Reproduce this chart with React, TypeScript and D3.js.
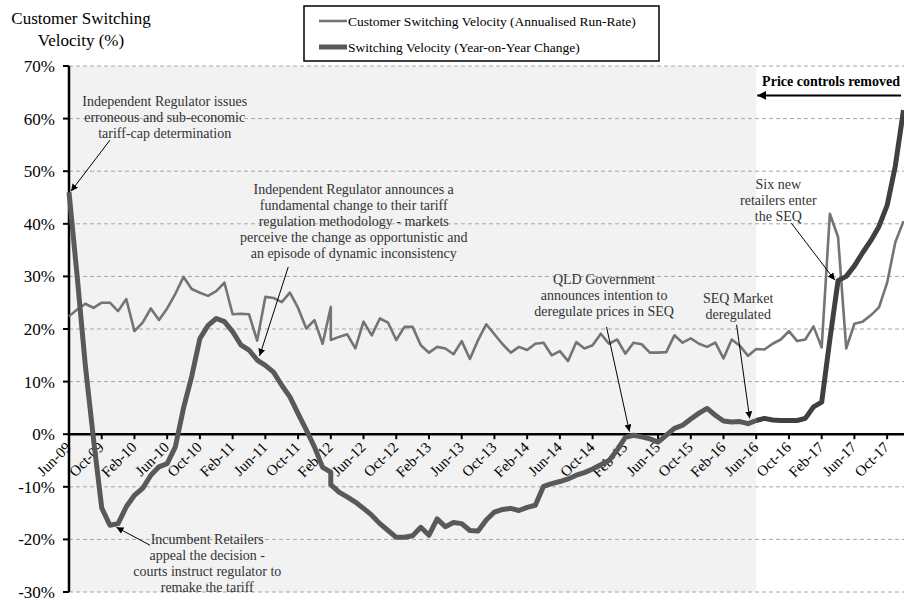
import React from "react";
import * as d3 from "d3";

// ---------- DATA ----------
const xTickLabels = [
  "Jun-09", "Oct-09", "Feb-10", "Jun-10", "Oct-10", "Feb-11", "Jun-11", "Oct-11",
  "Feb-12", "Jun-12", "Oct-12", "Feb-13", "Jun-13", "Oct-13", "Feb-14", "Jun-14",
  "Oct-14", "Feb-15", "Jun-15", "Oct-15", "Feb-16", "Jun-16", "Oct-16", "Feb-17",
  "Jun-17", "Oct-17",
];
const yTicks = [-30, -20, -10, 0, 10, 20, 30, 40, 50, 60, 70];

// month offsets from Jun-09 (Feb/Mar-12 reported twice in the source)
const monthIndex = [...d3.range(0, 33), 32, ...d3.range(33, 103)];

const runRate = [
  22.4, 23.7, 24.8, 24.0, 25.0, 25.0, 23.4, 25.7, 19.6, 21.2,
  23.9, 21.7, 23.9, 26.7, 29.9, 27.6, 26.9, 26.3, 27.2, 28.8,
  22.8, 22.9, 22.8, 17.8, 26.1, 25.9, 25.1, 26.9, 24.0, 20.1,
  21.7, 17.2, 24.2, 17.9, 18.5, 19.0, 16.3, 21.4, 18.8, 22.0,
  21.2, 17.9, 20.4, 20.4, 16.9, 15.5, 16.6, 16.3, 15.2, 17.7,
  14.3, 17.9, 20.9, 19.0, 17.1, 15.5, 16.6, 16.0, 17.2, 17.4,
  15.0, 15.8, 13.9, 17.5, 16.3, 16.9, 19.1, 17.2, 18.0, 15.3,
  17.4, 17.1, 15.5, 15.5, 15.6, 18.8, 17.4, 18.2, 17.2, 16.6,
  17.4, 14.4, 18.0, 16.8, 14.9, 16.2, 16.1, 17.2, 18.0, 19.6,
  17.7, 18.0, 20.5, 16.5, 41.9, 37.5, 16.3, 21.0, 21.4, 22.6,
  24.1, 28.8, 36.5, 40.5,
];

const yoyChange = [
  46.0, 30.0, 13.0, -1.0, -14.0, -17.3, -17.0, -13.8, -11.6, -10.3,
  -7.8, -6.2, -5.6, -2.4, 5.0, 11.0, 18.2, 20.7, 22.0, 21.4,
  19.5, 17.0, 16.0, 14.1, 13.1, 11.8, 9.3, 7.1, 3.9, 0.8,
  -2.4, -6.3, -7.2, -9.6, -11.0, -11.9, -12.9, -14.1, -15.4, -17.0,
  -18.3, -19.6, -19.6, -19.3, -17.7, -19.2, -16.1, -17.6, -16.8, -17.0,
  -18.3, -18.4, -16.3, -14.8, -14.3, -14.1, -14.5, -13.9, -13.5, -9.9,
  -9.4, -9.0, -8.5, -7.8, -7.3, -6.6, -5.8, -5.0, -3.0, -0.6,
  -0.2, -0.5, -0.9, -1.5, -0.2, 1.1, 1.7, 2.9, 4.0, 4.9,
  3.6, 2.5, 2.3, 2.4, 2.0, 2.6, 3.0, 2.7, 2.6, 2.6,
  2.6, 3.0, 5.2, 6.1, 18.0, 29.2, 30.0, 32.0, 34.5, 36.8,
  39.5, 43.5, 51.0, 61.6,
];

const priceControlStart = 84; // Jun-16

const legendLabels = [
  "Customer Switching Velocity (Annualised Run-Rate)",
  "Switching Velocity (Year-on-Year Change)",
];

// annotations in data space (month index, %)
const annotations = [
  { lines: ["Independent Regulator issues", "erroneous and sub-economic", "tariff-cap determination"],
    tx: 11.7, ty: 62.4, from: [5.0, 55.9], to: [0.25, 46.2] },
  { lines: ["Independent Regulator announces a", "fundamental change to their tariff", "regulation methodology  - markets", "perceive the change as opportunistic  and", "an episode of dynamic inconsistency"],
    tx: 34.8, ty: 45.6, from: [26.8, 31.8], to: [23.3, 14.9] },
  { lines: ["Incumbent Retailers", "appeal the decision -", "courts instruct regulator to", "remake the tariff"],
    tx: 16.9, ty: -20.8, from: [9.9, -21.1], to: [5.8, -17.7] },
  { lines: ["QLD Government", "announces intention to", "deregulate prices in SEQ"],
    tx: 65.4, ty: 28.5, from: [65.7, 20.4], to: [68.5, 0.5] },
  { lines: ["SEQ Market", "deregulated"],
    tx: 81.8, ty: 25.0, from: [81.6, 20.8], to: [83.2, 3.0] },
  { lines: ["Six new", "retailers enter", "the SEQ"],
    tx: 86.7, ty: 46.7, from: [88.3, 40.1], to: [93.6, 29.3] },
];

// ---------- CHART ----------
const FONT = '"Liberation Serif", "Times New Roman", serif';
const W = 904;
const H = 601;

export default function App() {
  const X = d3.scaleLinear().domain([0, 102]).range([69, 903.5]);
  const Y = d3.scaleLinear().domain([-30, 70]).range([592, 66]);

  const pts = (vals: number[]) => vals.map((v, k) => [monthIndex[k], v] as [number, number]);
  const line = d3.line<[number, number]>().x((d) => X(d[0])).y((d) => Y(d[1]));

  const thinPts = pts(runRate);
  const thickPts = pts(yoyChange);
  const splitK = monthIndex.indexOf(priceControlStart);
  const thickA = thickPts.slice(0, splitK + 1);
  const thickB = thickPts.slice(splitK);

  const y0 = Y(0);

  return (
    <svg width={W} height={H} style={{ position: "absolute", left: 0, top: 0, background: "#fff" }}
      fontFamily={FONT}>
      <defs>
        <marker id="arr" viewBox="0 0 10 10" refX="10" refY="5" markerWidth="7" markerHeight="7"
          markerUnits="userSpaceOnUse" orient="auto">
          <path d="M0,0 L10,5 L0,10 z" fill="#000" />
        </marker>
        <marker id="arrBig" viewBox="0 0 10 10" refX="10" refY="5" markerWidth="9" markerHeight="9"
          markerUnits="userSpaceOnUse" orient="auto">
          <path d="M0,0 L10,5 L0,10 z" fill="#000" />
        </marker>
      </defs>

      {/* shaded regulated period */}
      <rect x={X(0)} y={Y(70)} width={X(priceControlStart) - X(0)} height={Y(-30) - Y(70)} fill="#f2f2f2" />

      {/* gridlines */}
      {yTicks.filter((t) => t !== 0).map((t) => (
        <line key={t} x1={X(0)} x2={W} y1={Y(t)} y2={Y(t)} stroke="#a6a6a6" strokeWidth={1}
          strokeDasharray="4 3" />
      ))}

      {/* y axis */}
      <line x1={X(0)} x2={X(0)} y1={Y(70)} y2={Y(-30)} stroke="#000" strokeWidth={2.5} />
      {yTicks.map((t) => (
        <g key={t}>
          <line x1={X(0) - 6} x2={X(0)} y1={Y(t)} y2={Y(t)} stroke="#000" strokeWidth={2} />
          <text x={55} y={Y(t)} dy="0.35em" textAnchor="end" fontSize={17} fill="#000">{`${t}%`}</text>
        </g>
      ))}

      {/* zero axis + x ticks */}
      <line x1={X(0)} x2={W} y1={y0} y2={y0} stroke="#000" strokeWidth={2.5} />
      {xTickLabels.map((lab, k) => (
        <g key={lab}>
          <line x1={X(k * 4)} x2={X(k * 4)} y1={y0} y2={y0 + 5} stroke="#000" strokeWidth={2} />
          <text transform={`translate(${X(k * 4) + 3},${y0 + 14}) rotate(-45)`} textAnchor="end"
            fontSize={15} fill="#000">{lab}</text>
        </g>
      ))}

      {/* series */}
      <path d={line(thinPts) || ""} fill="none" stroke="#747474" strokeWidth={2.6} strokeLinejoin="round" />
      <path d={line(thickA) || ""} fill="none" stroke="#595959" strokeWidth={5} strokeLinejoin="round" />
      <path d={line(thickB) || ""} fill="none" stroke="#404040" strokeWidth={5} strokeLinejoin="round" />

      {/* annotations */}
      {annotations.map((a, i) => (
        <g key={i}>
          <line x1={X(a.from[0])} y1={Y(a.from[1])} x2={X(a.to[0])} y2={Y(a.to[1])} stroke="#000"
            strokeWidth={1} markerEnd="url(#arr)" />
          <text textAnchor="middle" fontSize={14} fill="#333">
            {a.lines.map((l, j) => (
              <tspan key={j} x={X(a.tx)} y={Y(a.ty) + j * 16}>{l}</tspan>
            ))}
          </text>
        </g>
      ))}

      {/* price controls removed */}
      <text x={900} y={Y(66.2)} textAnchor="end" fontSize={14} fontWeight="bold" fill="#000">
        Price controls removed
      </text>
      <line x1={X(101.7)} x2={X(priceControlStart) + 1} y1={Y(64.4)} y2={Y(64.4)} stroke="#000" strokeWidth={2}
        markerEnd="url(#arrBig)" />

      {/* y axis title */}
      <text textAnchor="middle" fontSize={17} fill="#000">
        <tspan x={81} y={24}>Customer Switching</tspan>
        <tspan x={81} y={46}>Velocity (%)</tspan>
      </text>

      {/* legend */}
      <rect x={304} y={6} width={355} height={55} fill="#fff" stroke="#000" strokeWidth={1.5} />
      <line x1={319} x2={347} y1={21} y2={21} stroke="#747474" strokeWidth={2.6} />
      <text x={348} y={25.5} fontSize={13.5} fill="#000">{legendLabels[0]}</text>
      <line x1={319} x2={347} y1={47} y2={47} stroke="#595959" strokeWidth={5} />
      <text x={348} y={51.5} fontSize={13.5} fill="#000">{legendLabels[1]}</text>
    </svg>
  );
}
